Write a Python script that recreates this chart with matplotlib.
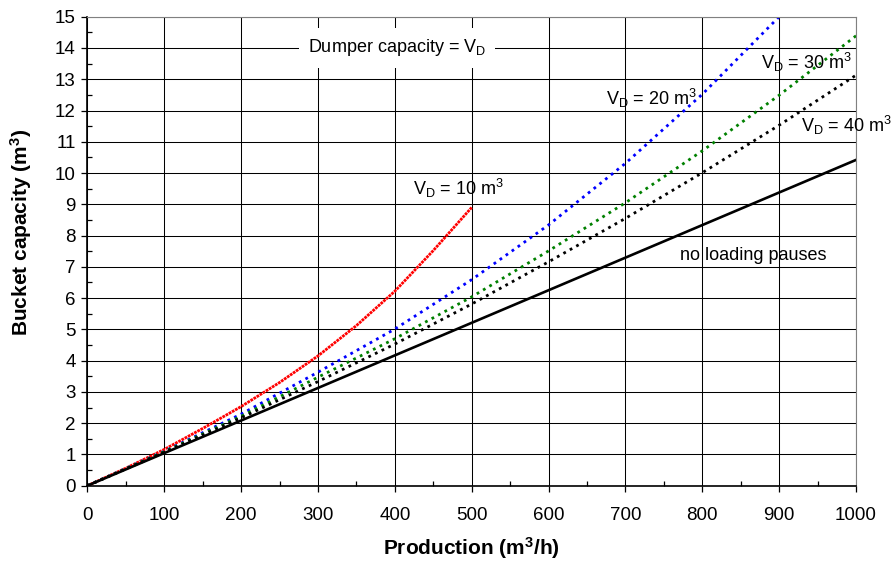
import numpy as np
import matplotlib
matplotlib.use("Agg")
import matplotlib.pyplot as plt
from matplotlib.ticker import MultipleLocator

plt.rcParams["font.family"] = ["Liberation Sans", "DejaVu Sans"]
plt.rcParams["mathtext.default"] = "regular"

# 读图得到的数据
prod_10 = [0, 50, 100, 150, 200, 250, 300, 350, 400, 450, 500]
vd_10 = [0, 0.56, 1.16, 1.83, 2.53, 3.30, 4.15, 5.12, 6.22, 7.52, 8.90]

prod_big = [0, 100, 200, 300, 400, 500, 600, 700, 800, 900, 1000]
vd_20 = [0, 1.10, 2.29, 3.63, 5.01, 6.59, 8.34, 10.31, 12.52, 15.0]
vd_30 = [0, 1.09, 2.22, 3.47, 4.70, 6.04, 7.51, 9.05, 10.71, 12.49, 14.39]
vd_40 = [0, 1.07, 2.17, 3.33, 4.53, 5.81, 7.16, 8.55, 10.01, 11.53, 13.13]

prod_np = [0, 1000]
no_pause = [0, 10.42]

fig = plt.figure(figsize=(8.93, 5.61), dpi=100)
ax = fig.add_axes([0.0978, 0.1342, 0.8608, 0.836])

ax.plot(prod_10, vd_10, color="red", lw=2.0, linestyle=(0, (1, 0.3)))
ax.plot(prod_big[:len(vd_20)], vd_20, color="blue", lw=2.0, linestyle=":")
ax.plot(prod_big, vd_30, color="green", lw=2.0, linestyle=":")
ax.plot(prod_big, vd_40, color="black", lw=2.0, linestyle=":")
ax.plot(prod_np, no_pause, color="black", lw=1.9)

ax.set_xlim(0, 1000)
ax.set_ylim(0, 15)
ax.xaxis.set_major_locator(MultipleLocator(100))
ax.xaxis.set_minor_locator(MultipleLocator(50))
ax.yaxis.set_major_locator(MultipleLocator(1))
ax.yaxis.set_minor_locator(MultipleLocator(0.5))
ax.grid(True, which="major", color="black", lw=0.75)
ax.set_axisbelow(True)

ax.tick_params(which="major", direction="out", length=4.3, width=0.9, labelsize=13.5)
ax.tick_params(axis="x", which="major", pad=11)
ax.tick_params(axis="y", which="major", pad=4)
ax.tick_params(which="minor", direction="in", length=3.6, width=0.9)

for side in ["top", "right"]:
    ax.spines[side].set_color("#808080")
for side in ["left", "bottom"]:
    ax.spines[side].set_color("black")
    ax.spines[side].set_linewidth(1.2)

ax.set_xlabel("Production (m$^3$/h)", fontsize=15, fontweight="bold")
ax.set_ylabel("Bucket capacity (m$^3$)", fontsize=15, fontweight="bold")
ax.xaxis.set_label_coords(0.5, -0.106)
ax.yaxis.set_label_coords(-0.069, 0.54)

fs = 13
ax.text(287, 14.0, "Dumper capacity = V$_D$", fontsize=fs, ha="left", va="center",
        bbox=dict(facecolor="white", edgecolor="none", boxstyle="square,pad=0.5"))
ax.text(424, 9.52, "V$_D$ = 10 m$^3$", fontsize=fs, ha="left", va="center")
ax.text(675, 12.39, "V$_D$ = 20 m$^3$", fontsize=fs, ha="left", va="center")
ax.text(877, 13.54, "V$_D$ = 30 m$^3$", fontsize=fs, ha="left", va="center")
ax.text(929, 11.51, "V$_D$ = 40 m$^3$", fontsize=fs, ha="left", va="center", clip_on=False)
ax.text(771, 7.35, "no loading pauses", fontsize=fs, ha="left", va="center")

fig.savefig("out.png", dpi=100)
